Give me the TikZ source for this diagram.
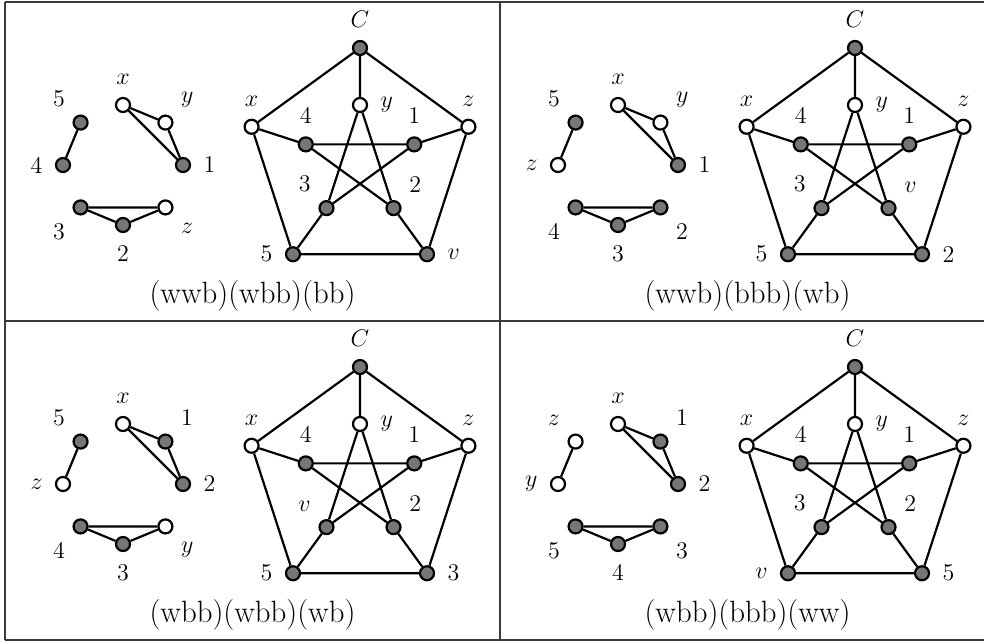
\RequirePackage{fix-cm}
\documentclass[tikz,border=0pt]{standalone}
\usepackage{tikz}
\definecolor{nodeGray}{HTML}{767676}
\definecolor{ruleGray}{HTML}{3A3A3A}

\tikzset{
  vtx/.style={circle, draw, line width=1.1pt, minimum size=7pt, inner sep=0pt},
  edge/.style={line width=1.1pt},
  rule/.style={ruleGray, line width=0.9pt},
  caption/.style={inner sep=0pt, font=\fontsize{15.4}{18}\selectfont},
  every label/.style={inner sep=2pt, font=\fontsize{12}{14}\selectfont},
  label distance=4pt
}

% small graph: entries angle/label/colour
\newcommand{\smallgraph}[1]{%
  \foreach \ang/\lab/\col in {#1}
    \node[vtx, fill=\col, label=\ang:\lab] (s\ang) at (\ang:60) {};
  \draw[edge] (s135) -- (s180);
  \draw[edge] (s90) -- (s45) -- (s0) -- (s90);
  \draw[edge] (s225) -- (s270) -- (s315) -- (s225);
}

% petersen graph: inner lower left/right, outer lower left/right
\newcommand{\petersen}[4]{%
  \node[vtx, fill=nodeGray, label=90:$C$] (pC) at (90:114) {};
  \node[vtx, fill=white, label=90:$x$] (px) at (162:114) {};
  \node[vtx, fill=white, label=90:$z$] (pz) at (18:114) {};
  \node[vtx, fill=nodeGray, label=180:#3] (pbl) at (234:114) {};
  \node[vtx, fill=nodeGray, label=0:#4] (pbr) at (306:114) {};
  \node[vtx, fill=white, label=0:$y$] (py) at (90:57) {};
  \node[vtx, fill=nodeGray, label=90:4] (p4) at (162:57) {};
  \node[vtx, fill=nodeGray, label=90:1] (p1) at (18:57) {};
  \node[vtx, fill=nodeGray, label=135:#1] (pil) at (234:57) {};
  \node[vtx, fill=nodeGray, label=45:#2] (pir) at (306:57) {};
  \draw[edge] (pC) -- (px) -- (pbl) -- (pbr) -- (pz) -- (pC);
  \draw[edge] (pC) -- (py) (px) -- (p4) (pz) -- (p1) (pbl) -- (pil) (pbr) -- (pir);
  \draw[edge] (py) -- (pil) -- (p1) -- (p4) -- (pir) -- (py);
}

\newcommand{\panel}[7]{%
  \begin{scope}[shift={#1}]
    \begin{scope}[shift={(123,-165)}]
      \smallgraph{#2}
    \end{scope}
    \begin{scope}[shift={(360,-162)}]
      \petersen{#3}{#4}{#5}{#6}
    \end{scope}
    \node[caption] (cap) at (252.5,-296) {#7};
  \end{scope}
}

\begin{document}
\begin{tikzpicture}[x=0.5pt, y=0.5pt]
    \useasboundingbox (0,0) rectangle (984,-642);

    \draw[rule] (5,-2) -- (984,-2);
    \draw[rule] (5,-640) -- (984,-640);
    \draw[rule] (5,-321) -- (984,-321);
    \draw[rule] (5,-2) -- (5,-640);
    \draw[rule] (500,-2) -- (500,-640);

    \panel{(0,0)}{135/5/nodeGray, 180/4/nodeGray, 90/$x$/white, 45/$y$/white, 0/1/nodeGray, 225/3/nodeGray, 270/2/nodeGray, 315/$z$/white}{3}{2}{5}{$v$}{(wwb)(wbb)(bb)}
    \panel{(495,0)}{135/5/nodeGray, 180/$z$/white, 90/$x$/white, 45/$y$/white, 0/1/nodeGray, 225/4/nodeGray, 270/3/nodeGray, 315/2/nodeGray}{3}{$v$}{5}{2}{(wwb)(bbb)(wb)}
    \panel{(0,-319)}{135/5/nodeGray, 180/$z$/white, 90/$x$/white, 45/1/nodeGray, 0/2/nodeGray, 225/4/nodeGray, 270/3/nodeGray, 315/$y$/white}{$v$}{2}{5}{3}{(wbb)(wbb)(wb)}
    \panel{(495,-319)}{135/$z$/white, 180/$y$/white, 90/$x$/white, 45/1/nodeGray, 0/2/nodeGray, 225/5/nodeGray, 270/4/nodeGray, 315/3/nodeGray}{3}{2}{$v$}{5}{(wbb)(bbb)(ww)}
\end{tikzpicture}
\end{document}
